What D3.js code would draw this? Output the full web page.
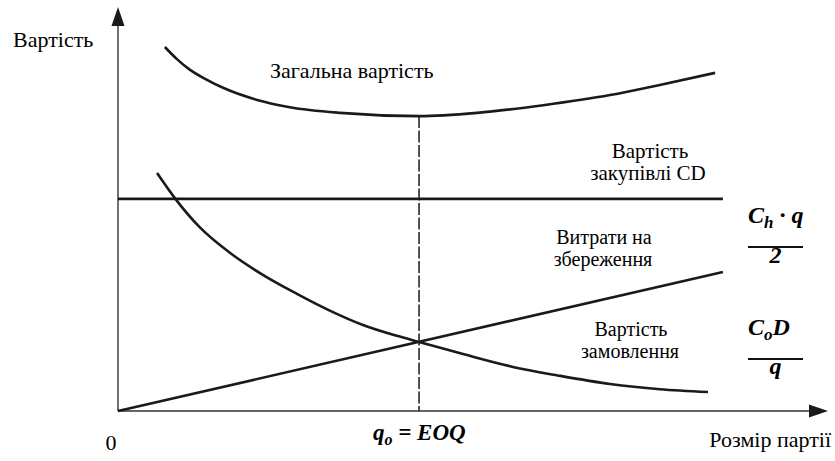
<!DOCTYPE html>
<html>
<head>
<meta charset="utf-8">
<script src="https://cdn.jsdelivr.net/npm/d3@7"></script>
</head>
<body style="margin:0">
<svg id="chart" width="835" height="461"></svg>
<script>
// Batch size q (0..100) and cost (0..100) in relative units
const orderingQ    = [5.5, 8.0, 11.5, 15.8, 20.4, 25.2, 29.9, 34.5, 39.3, 42.4, 48.6, 55.2, 62.3, 69.3, 76.3, 83.1];
const orderingCost = [58.9, 52.7, 45.5, 39.1, 33.7, 29.0, 24.8, 21.3, 18.6, 17.1, 14.1, 11.1, 8.7, 6.7, 5.4, 4.7];

const totalQ    = [6.6, 8.3, 10.1, 12.4, 14.8, 19.6, 24.2, 31.3, 42.4, 50.6, 59.9, 69.3, 76.3, 84.1];
const totalCost = [90.1, 87.1, 84.5, 82.1, 80.0, 77.0, 75.2, 73.8, 73.0, 73.8, 75.7, 78.2, 80.7, 83.7];

const holdingQ    = [0, 85.2];
const holdingCost = [0, 34.4];

const purchaseQ    = [0, 85.2];
const purchaseCost = [52.5, 52.5];

const eoq = 42.4;
const eoqTotal = 73.0;

const FAMILY = "'Liberation Serif', Tinos, 'Times New Roman', FreeSerif, 'DejaVu Serif'";

const svg = d3.select("#chart");

const x = d3.scaleLinear().domain([0, 100]).range([118, 828]);
const y = d3.scaleLinear().domain([0, 100]).range([411, 7]);

const toPts = (qs, cs) => qs.map((q, i) => [q, cs[i]]);

// Axes with arrowheads
const x0 = x(0), y0 = y(0), xEnd = x.range()[1], yEnd = y.range()[1];
svg.append("line").attr("x1", x0).attr("y1", y0).attr("x2", xEnd - 14).attr("y2", y0)
  .attr("stroke", "#333").attr("stroke-width", 1.4);
svg.append("line").attr("x1", x0).attr("y1", y0).attr("x2", x0).attr("y2", yEnd + 14)
  .attr("stroke", "#333").attr("stroke-width", 1.4);
svg.append("path")
  .attr("d", `M${xEnd},${y0} L${xEnd - 19},${y0 - 6.5} L${xEnd - 19},${y0 + 6.5} Z`)
  .attr("fill", "#1a1a1a");
svg.append("path")
  .attr("d", `M${x0},${yEnd} L${x0 - 6.5},${yEnd + 19} L${x0 + 6.5},${yEnd + 19} Z`)
  .attr("fill", "#1a1a1a");

// EOQ dashed guide
svg.append("line")
  .attr("x1", x(eoq)).attr("x2", x(eoq))
  .attr("y1", y(eoqTotal)).attr("y2", y0)
  .attr("stroke", "#1a1a1a").attr("stroke-width", 1.5)
  .attr("stroke-dasharray", "12,2.5");

const line = d3.line().x(d => x(d[0])).y(d => y(d[1]));
const smooth = d3.line().x(d => x(d[0])).y(d => y(d[1])).curve(d3.curveMonotoneX);

const drawPath = (pts, gen) => svg.append("path")
  .attr("d", gen(pts))
  .attr("fill", "none").attr("stroke", "#1a1a1a").attr("stroke-width", 2.6);

drawPath(toPts(purchaseQ, purchaseCost), line);
drawPath(toPts(holdingQ, holdingCost), line);
drawPath(toPts(orderingQ, orderingCost), smooth);
drawPath(toPts(totalQ, totalCost), smooth);

// Text labels
const label = (txt, px, py, anchor, size) => svg.append("text")
  .attr("x", px).attr("y", py).attr("text-anchor", anchor || "start")
  .attr("style", `font: ${size || 22}px ${FAMILY}`)
  .text(txt);

label("Вартість", 13, 47);
label("Розмір партії", 831, 447, "end");
label("0", 111, 450, "middle");
label("Загальна вартість", 270, 78);
label("Вартість", 650, 158, "middle", 21);
label("закупівлі CD", 648, 180, "middle", 21);
label("Витрати на", 604, 244, "middle", 20);
label("збереження", 603, 266, "middle", 20);
label("Вартість", 631, 336, "middle", 20);
label("замовлення", 630, 358, "middle", 20);

// Formulas
const formula = (px, py, anchor, size) => svg.append("text")
  .attr("x", px).attr("y", py).attr("text-anchor", anchor || "start")
  .attr("style", `font: italic bold ${size || 24}px ${FAMILY}`);

const fx = 748, fw = 55;
const f1 = formula(fx, 223);
f1.append("tspan").text("C");
f1.append("tspan").attr("dy", 5).style("font-size", "17px").text("h");
f1.append("tspan").attr("dy", -5).text(" · q");
svg.append("line").attr("x1", fx).attr("x2", fx + fw).attr("y1", 247).attr("y2", 247)
  .attr("stroke", "#111").attr("stroke-width", 1.8);
formula(fx + fw / 2, 263, "middle").text("2");

const f2 = formula(fx, 335);
f2.append("tspan").text("C");
f2.append("tspan").attr("dy", 5).style("font-size", "17px").text("o");
f2.append("tspan").attr("dy", -5).text("D");
svg.append("line").attr("x1", fx).attr("x2", fx + fw).attr("y1", 359).attr("y2", 359)
  .attr("stroke", "#111").attr("stroke-width", 1.8);
formula(fx + fw / 2, 374, "middle").text("q");

const f3 = formula(373, 440, "start", 23);
f3.append("tspan").text("q");
f3.append("tspan").attr("dy", 5).style("font-size", "16px").text("o");
f3.append("tspan").attr("dy", -5).text(" = EOQ");
</script>
</body>
</html>
